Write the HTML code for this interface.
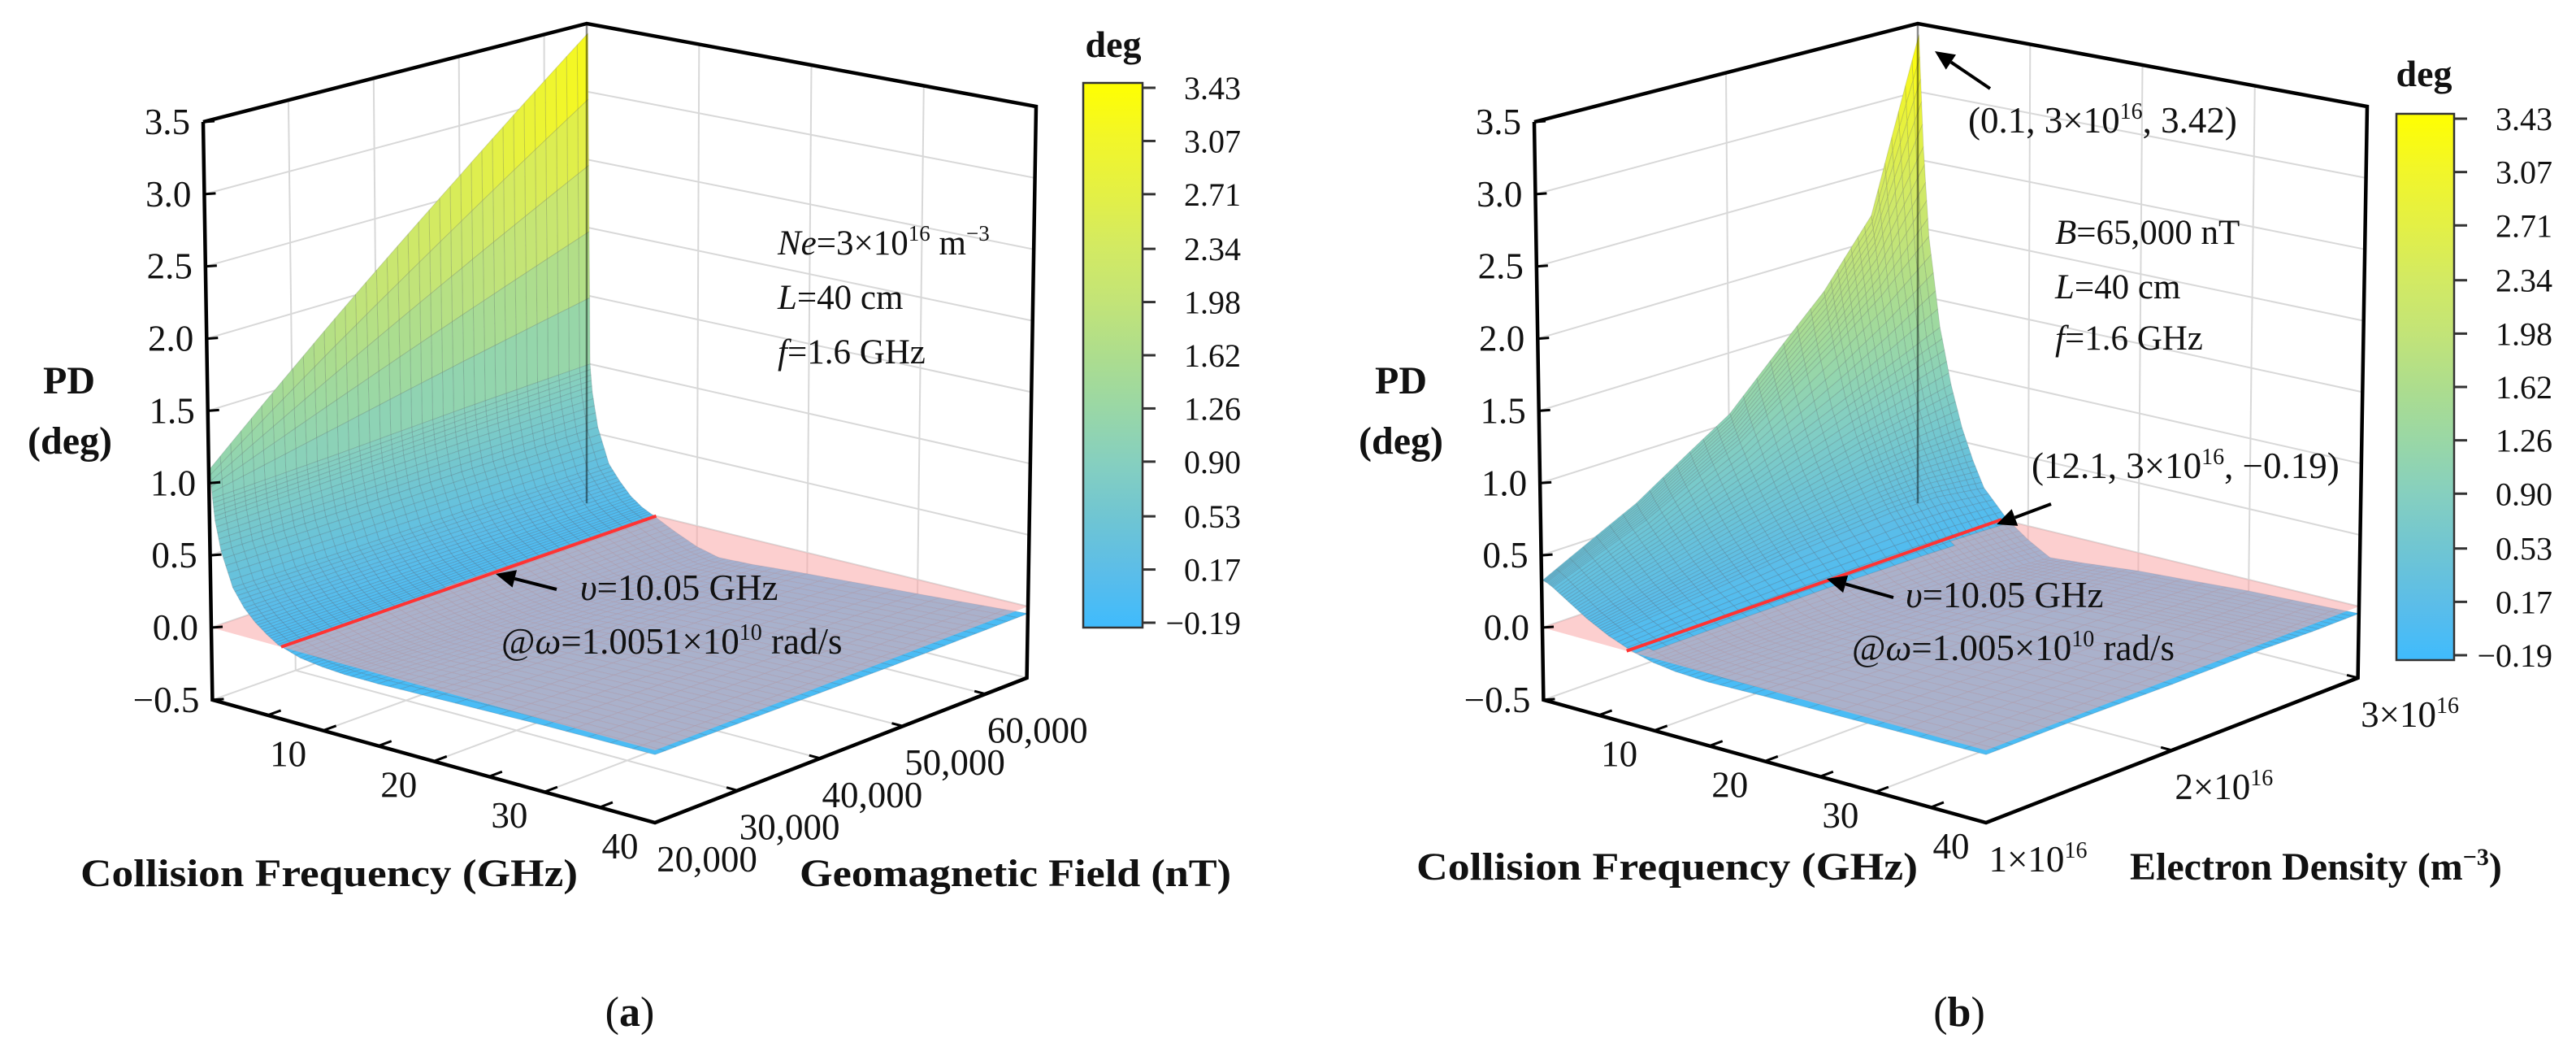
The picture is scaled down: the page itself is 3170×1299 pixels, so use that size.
<!DOCTYPE html>
<html><head><meta charset="utf-8"><title>PD surfaces</title>
<style>
html,body{margin:0;padding:0;background:#fff;}
svg{display:block;font-family:"Liberation Serif",serif;}
svg text{font-family:"Liberation Serif",serif;}
</style></head>
<body>
<svg id="fig" width="3170" height="1299" viewBox="0 0 3170 1299" xmlns="http://www.w3.org/2000/svg" font-family="Liberation Serif, serif">
<defs>
<linearGradient id="cmap" x1="0" y1="1" x2="0" y2="0">
<stop offset="0" stop-color="#3fbbfd"/><stop offset="0.1" stop-color="#5bbde9"/><stop offset="0.2" stop-color="#6fc5d3"/><stop offset="0.3" stop-color="#85cfc0"/><stop offset="0.4" stop-color="#99d7a6"/><stop offset="0.5" stop-color="#addd8d"/><stop offset="0.6" stop-color="#c3e477"/><stop offset="0.7" stop-color="#d3ea62"/><stop offset="0.8" stop-color="#e4f044"/><stop offset="0.9" stop-color="#f2f628"/><stop offset="1" stop-color="#ffff00"/>
</linearGradient>
</defs>
<rect x="0" y="0" width="3170" height="1299" fill="#fff"/>
<g id="panelA"></g>
<g id="panelB"></g>

<g font-size="43" fill="#111">
<text x="957" y="313"><tspan font-style="italic">Ne</tspan>=3×10<tspan dy="-17" font-size="27">16</tspan><tspan dy="17"> m</tspan><tspan dy="-17" font-size="27">−3</tspan></text>
<text x="957" y="380"><tspan font-style="italic">L</tspan>=40 cm</text>
<text x="957" y="447"><tspan font-style="italic">f</tspan>=1.6 GHz</text>
<text x="714" y="738" font-size="45"><tspan font-style="italic">υ</tspan>=10.05 GHz</text>
<text x="617" y="804" font-size="45">@<tspan font-style="italic">ω</tspan>=1.0051×10<tspan dy="-17" font-size="28">10</tspan><tspan dy="17"> rad/s</tspan></text>
<text x="85" y="484" font-size="48" font-weight="bold" text-anchor="middle">PD</text>
<text x="86" y="558" font-size="48" font-weight="bold" text-anchor="middle">(deg)</text>
<text x="99" y="1090" font-size="48" font-weight="bold" textLength="612" lengthAdjust="spacingAndGlyphs">Collision Frequency (GHz)</text>
<text x="984" y="1090" font-size="48" font-weight="bold" textLength="531" lengthAdjust="spacingAndGlyphs">Geomagnetic Field (nT)</text>
<text x="1370" y="70" font-size="46" font-weight="bold" text-anchor="middle">deg</text>
<text x="775" y="1262" font-size="52" text-anchor="middle">(<tspan font-weight="bold">a</tspan>)</text>
</g>
<g font-size="43" fill="#111">
<text x="2422" y="163" font-size="45">(0.1, 3×10<tspan dy="-17" font-size="28">16</tspan><tspan dy="17">, 3.42)</tspan></text>
<text x="2529" y="300"><tspan font-style="italic">B</tspan>=65,000 nT</text>
<text x="2529" y="367"><tspan font-style="italic">L</tspan>=40 cm</text>
<text x="2529" y="430"><tspan font-style="italic">f</tspan>=1.6 GHz</text>
<text x="2500" y="588" font-size="45">(12.1, 3×10<tspan dy="-17" font-size="28">16</tspan><tspan dy="17">, −0.19)</tspan></text>
<text x="2345" y="747" font-size="45"><tspan font-style="italic">υ</tspan>=10.05 GHz</text>
<text x="2279" y="812" font-size="45">@<tspan font-style="italic">ω</tspan>=1.005×10<tspan dy="-17" font-size="28">10</tspan><tspan dy="17"> rad/s</tspan></text>
<text x="1724" y="484" font-size="48" font-weight="bold" text-anchor="middle">PD</text>
<text x="1724" y="558" font-size="48" font-weight="bold" text-anchor="middle">(deg)</text>
<text x="1743" y="1082" font-size="48" font-weight="bold" textLength="617" lengthAdjust="spacingAndGlyphs">Collision Frequency (GHz)</text>
<text x="2621" y="1082" font-size="48" font-weight="bold">Electron Density (m<tspan dy="-18" font-size="30">−3</tspan><tspan dy="18">)</tspan></text>
<text x="2983" y="106" font-size="46" font-weight="bold" text-anchor="middle">deg</text>
<text x="2411" y="1262" font-size="52" text-anchor="middle">(<tspan font-weight="bold">b</tspan>)</text>
</g>
</svg>
<script>
// ---- data ----
const zTicks = [-0.5, 0, 0.5, 1, 1.5, 2, 2.5, 3, 3.5];
const zTickLabels = ["−0.5","0.0","0.5","1.0","1.5","2.0","2.5","3.0","3.5"];
const nuTicks = [10, 20, 30, 40];
const nuMinorTicks = [5, 10, 15, 20, 25, 30, 35, 40];
const bTicks = [20000, 30000, 40000, 50000, 60000];
const bTickLabels = ["20,000","30,000","40,000","50,000","60,000"];
const neTicks = [1, 2, 3];
const cbTicks = [3.43, 3.07, 2.71, 2.34, 1.98, 1.62, 1.26, 0.90, 0.53, 0.17, -0.19];
const cbTickLabels = ["3.43","3.07","2.71","2.34","1.98","1.62","1.26","0.90","0.53","0.17","−0.19"];

// panel (a): PD vs collision frequency (GHz) and geomagnetic field (nT)
const aNu = [0.1, 0.3, 0.5, 1, 2, 3, 4, 5, 6, 8, 10, 12, 15, 20, 30, 40];
const aB = [20000, 35000, 50000, 65000];
const aZ0 = [1.1, 0.9, 0.75, 0.55, 0.32, 0.2, 0.12, 0.06, 0.01, -0.04, -0.06, -0.07, -0.07, -0.06, -0.04, -0.03];
const aZ1 = [1.88, 0.93, 0.77, 0.55, 0.31, 0.2, 0.11, 0.05, 0.01, -0.05, -0.09, -0.11, -0.11, -0.09, -0.06, -0.04];
const aZ2 = [2.65, 0.97, 0.79, 0.55, 0.31, 0.19, 0.1, 0.05, 0.0, -0.07, -0.12, -0.15, -0.15, -0.12, -0.08, -0.05];
const aZ3 = [3.43, 1.0, 0.8, 0.55, 0.3, 0.19, 0.1, 0.04, 0.0, -0.08, -0.15, -0.19, -0.18, -0.15, -0.1, -0.05];
const aRedNu = 6.3;

// panel (b): PD vs collision frequency (GHz) and electron density (1e16 m^-3)
const bNu = [0.1, 0.5, 1, 2, 3, 4, 5, 6, 8, 10, 12, 15, 20, 30, 40];
const bNe = [1, 1.5, 2, 2.5, 2.75, 3];
const bZ0 = [0.33, 0.32, 0.3, 0.25, 0.2, 0.15, 0.11, 0.07, 0.01, -0.03, -0.05, -0.06, -0.05, -0.04, -0.03];
const bZ1 = [0.65, 0.6, 0.55, 0.45, 0.36, 0.27, 0.2, 0.13, 0.03, -0.04, -0.07, -0.08, -0.07, -0.05, -0.03];
const bZ2 = [1.07, 0.98, 0.88, 0.7, 0.54, 0.41, 0.3, 0.2, 0.04, -0.05, -0.1, -0.11, -0.09, -0.06, -0.04];
const bZ3 = [1.74, 1.55, 1.35, 1.0, 0.74, 0.54, 0.38, 0.25, 0.04, -0.07, -0.13, -0.14, -0.11, -0.07, -0.04];
const bZ4 = [2.19, 1.95, 1.62, 1.15, 0.82, 0.58, 0.4, 0.25, 0.03, -0.08, -0.16, -0.15, -0.12, -0.08, -0.05];
const bZ5 = [3.42, 2.6, 1.95, 1.3, 0.9, 0.6, 0.38, 0.2, 0.02, -0.1, -0.19, -0.17, -0.13, -0.08, -0.05];
const bRedNu = 7.6;

// ---- geometry ----
const NS = "http://www.w3.org/2000/svg";
const C0 = {L:[260,772], F:[806,923], R:[1265,746], K:[722,614]};
const CT = {L:[250,150], F:[806,300], R:[1275,131], K:[722,29]};
const ZMAX = 3.5;
function lerp2(p,q,t){return [p[0]+(q[0]-p[0])*t, p[1]+(q[1]-p[1])*t];}
function bil(c,u,v){const a=lerp2(c.L,c.F,u), b=lerp2(c.K,c.R,u); return lerp2(a,b,v);}
function proj(dx,u,v,z){const p0=bil(C0,u,v), p1=bil(CT,u,v); const t=z/ZMAX; return [p0[0]+(p1[0]-p0[0])*t+dx, p0[1]+(p1[1]-p0[1])*t];}
const uNu = nu => nu/40;
const vB = b => (b-20000)/45000;
const vNe = n => (n-1)/2;

const cmStops = [[-0.19,[63,187,253]],[0.17,[91,189,233]],[0.53,[111,197,211]],[0.90,[133,207,192]],[1.26,[153,215,166]],[1.62,[173,221,141]],[1.98,[195,228,119]],[2.34,[211,234,98]],[2.71,[228,240,68]],[3.07,[242,246,40]],[3.43,[255,255,0]]];
function cmap(z){
  if(z<=cmStops[0][0]) return 'rgb('+cmStops[0][1].join(',')+')';
  for(let i=1;i<cmStops.length;i++){
    if(z<=cmStops[i][0]){const a=cmStops[i-1],b=cmStops[i];const t=(z-a[0])/(b[0]-a[0]);
      return 'rgb('+[0,1,2].map(k=>Math.round(a[1][k]+(b[1][k]-a[1][k])*t)).join(',')+')';}
  }
  return 'rgb(255,255,0)';
}
function mk(parent, tag, attrs){const el=document.createElementNS(NS,tag); for(const k in attrs) el.setAttribute(k,attrs[k]); parent.appendChild(el); return el;}
function pts(arr){return arr.map(p=>p[0].toFixed(1)+','+p[1].toFixed(1)).join(' ');}

function drawPanel(g, dx, nus, ys, Z, vf, redNu, yTicks, yLabels, yGrid, cb){
  const grid = mk(g,'g',{stroke:'#d8d8d8','stroke-width':2,fill:'none'});
  
  
  for(const z of zTicks){
    const l1 = mk(grid,'polyline',{points:pts([proj(dx,0,0,z),proj(dx,0,1,z),proj(dx,1,1,z)])});
    
    
  }
  for(const n of [10,20,30]){
    const u=uNu(n);
    const l2 = mk(grid,'polyline',{points:pts([proj(dx,u,0,-0.5),proj(dx,u,1,-0.5),proj(dx,u,1,ZMAX)])});
    
    
  }
  for(const y of yGrid){
    const v=vf(y);
    const l3 = mk(grid,'polyline',{points:pts([proj(dx,1,v,-0.5),proj(dx,0,v,-0.5),proj(dx,0,v,ZMAX)])});
    
    
  }
  const SU=5, SV=Math.max(6,Math.round(36/(ys.length-1)));
  const nodes=[];
  for(let i=0;i<ys.length-1;i++){
    for(let a=0;a<(i===ys.length-2?SV+1:SV);a++){
      const tv=a/SV; const yv=ys[i]+(ys[i+1]-ys[i])*tv; const row=[];
      for(let j=0;j<nus.length-1;j++){
        for(let b=0;b<(j===nus.length-2?SU+1:SU);b++){
          const tu=b/SU; const nu=nus[j]+(nus[j+1]-nus[j])*tu;
          const z=(Z[i][j]*(1-tu)+Z[i][j+1]*tu)*(1-tv)+(Z[i+1][j]*(1-tu)+Z[i+1][j+1]*tu)*tv;
          row.push({u:uNu(nu), v:vf(yv), z:z});
        }
      }
      nodes.push(row);
    }
  }
  const below=[], above=[];
  for(let r=0;r<nodes.length-1;r++){
    for(let c=0;c<nodes[r].length-1;c++){
      const q=[nodes[r][c],nodes[r][c+1],nodes[r+1][c+1],nodes[r+1][c]];
      const za=(q[0].z+q[1].z+q[2].z+q[3].z)/4;
      const key=(q[0].u+q[1].u)/2+(1-(q[0].v+q[3].v)/2);
      (za<0?below:above).push({q:q,z:za,key:key});
    }
  }
  below.sort((a,b)=>a.key-b.key); above.sort((a,b)=>a.key-b.key);
  function drawQuads(list, name){
    const sg = mk(g,'g',{stroke:'rgba(55,65,75,0.16)','stroke-width':1,'stroke-linejoin':'round'});
    
    
    for(const o of list){
      const p = mk(sg,'polygon',{points:pts(o.q.map(n=>proj(dx,n.u,n.v,n.z))), fill:cmap(o.z)});
      
      
    }
  }
  drawQuads(below,'surface-below-zero');
  const plane = mk(g,'polygon',{points:pts([proj(dx,0,0,0),proj(dx,1,0,0),proj(dx,1,1,0),proj(dx,0,1,0)]), fill:'rgb(250,167,167)', 'fill-opacity':0.55});
  
  
  drawQuads(above,'surface-above-zero');
  const ru=uNu(redNu);
  const p0=proj(dx,ru,0,0), p1=proj(dx,ru,1,0);
  const red = mk(g,'line',{x1:p0[0],y1:p0[1],x2:p1[0],y2:p1[1],stroke:'#ff3333','stroke-width':4});
  
  
  const box = mk(g,'g',{stroke:'#000','stroke-width':4.5,fill:'none','stroke-linejoin':'miter'});
  
  
  const backV = mk(g,'line',{x1:proj(dx,0,1,ZMAX)[0],y1:proj(dx,0,1,ZMAX)[1],x2:proj(dx,0,1,0)[0],y2:proj(dx,0,1,0)[1]+5,stroke:'rgba(0,0,0,0.45)','stroke-width':2.5});
  
  
  const e1 = mk(box,'polyline',{points:pts([proj(dx,0,0,ZMAX),proj(dx,0,0,-0.5),proj(dx,1,0,-0.5),proj(dx,1,1,-0.5),proj(dx,1,1,ZMAX),proj(dx,0,1,ZMAX),proj(dx,0,0,ZMAX)])});
  
  
  const tk = mk(g,'g',{stroke:'#000','stroke-width':3});
  
  
  const lab = mk(g,'g',{'font-size':45,fill:'#111','font-family':'Liberation Serif, serif'});
  
  
  zTicks.forEach((z,i)=>{
    const p=proj(dx,0,0,z);
    const t = mk(tk,'line',{x1:p[0],y1:p[1],x2:p[0]+14,y2:p[1]-1});
    
    
    const tx = mk(lab,'text',{x:p[0]-16,y:p[1]+15,'text-anchor':'end'});
    tx.textContent=zTickLabels[i];
    
    
  });
  nuMinorTicks.forEach(n=>{
    const p=proj(dx,uNu(n),0,-0.5), q=proj(dx,uNu(n),0.035,-0.5);
    const t = mk(tk,'line',{x1:p[0],y1:p[1],x2:q[0],y2:q[1]});
    
    
  });
  nuTicks.forEach(n=>{
    const p=proj(dx,uNu(n),0,-0.5);
    const tx = mk(lab,'text',{x:p[0]-43,y:p[1]+44,'text-anchor':'middle'});
    tx.textContent=String(n);
    
    
  });
  yTicks.forEach((y,i)=>{
    const v=vf(y); const p=proj(dx,1,v,-0.5), q=proj(dx,0.975,v,-0.5);
    const t = mk(tk,'line',{x1:p[0],y1:p[1],x2:q[0],y2:q[1]});
    
    
    const tx = mk(lab,'text',{x:p[0]+64,y:p[1]+60,'text-anchor':'middle'});
    
    
    if(yLabels) tx.textContent=yLabels[i];
    else { tx.textContent=String(y)+'×10'; const s=mk(tx,'tspan',{dy:-17,'font-size':28}); s.textContent='16';
      
       }
  });
  const cg = mk(g,'g',{'font-family':'Liberation Serif, serif'});
  
  
  const rect = mk(cg,'rect',{x:cb.x,y:cb.y0,width:cb.w,height:cb.y1-cb.y0,fill:'url(#cmap)',stroke:'#333','stroke-width':2.5});
  
  
  const cmin=cbTicks[cbTicks.length-1], cmax=cbTicks[0];
  cbTicks.forEach((v,i)=>{
    const y=cb.t0+(cmax-v)/(cmax-cmin)*(cb.t1-cb.t0);
    const t = mk(cg,'line',{x1:cb.x+cb.w,y1:y,x2:cb.x+cb.w+16,y2:y,stroke:'#333','stroke-width':3});
    
    
    const tx = mk(cg,'text',{x:cb.x+cb.w+121,y:y+14,'text-anchor':'end','font-size':40,fill:'#111'});
    tx.textContent=cbTickLabels[i];
    
    
  });
}
function arrow(g, x1,y1,x2,y2, name){
  const ang=Math.atan2(y2-y1,x2-x1), L=24, W=11;
  const bx=x2-L*Math.cos(ang), by=y2-L*Math.sin(ang);
  const ln = mk(g,'line',{x1:x1,y1:y1,x2:bx,y2:by,stroke:'#000','stroke-width':4});
  
  
  const hd = mk(g,'polygon',{points:pts([[x2,y2],[bx-W*Math.sin(ang),by+W*Math.cos(ang)],[bx+W*Math.sin(ang),by-W*Math.cos(ang)]]),fill:'#000'});
  
  
}
const gA=document.getElementById('panelA'), gB=document.getElementById('panelB');
drawPanel(gA, 0, aNu, aB, [aZ0,aZ1,aZ2,aZ3], vB, aRedNu, bTicks, bTickLabels, [30000,40000,50000,60000], {x:1333,w:73,y0:102,y1:772,t0:108,t1:766});
drawPanel(gB, 1638, bNu, bNe, [bZ0,bZ1,bZ2,bZ3,bZ4,bZ5], vNe, bRedNu, neTicks, null, [2], {x:2949,w:71,y0:140,y1:812,t0:146,t1:806});
arrow(gA, 685,725, 610,706, 'nu-arrow');
arrow(gB, 2330,735, 2248,712, 'nu-arrow-b');
arrow(gB, 2449,109, 2381,63, 'peak-arrow');
arrow(gB, 2524,620, 2457,645, 'min-arrow');
</script>
</body></html>
